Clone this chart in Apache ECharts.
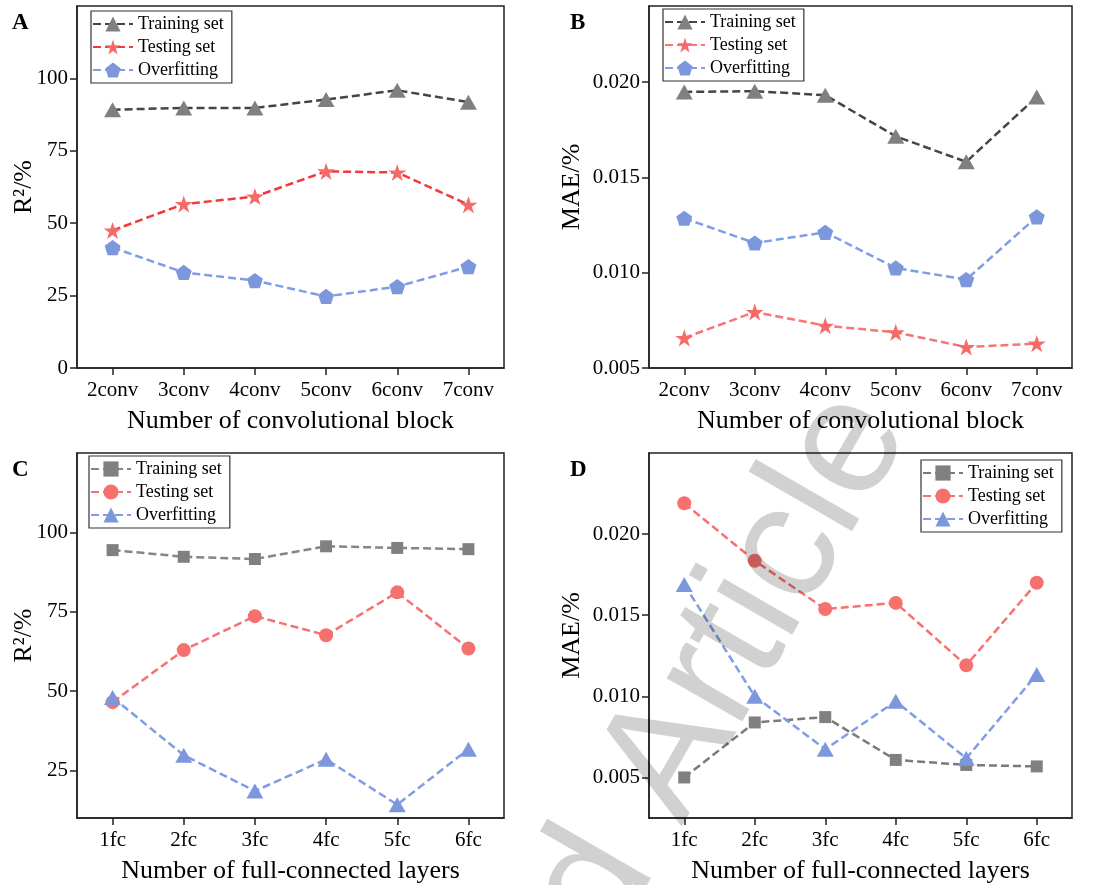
<!DOCTYPE html>
<html>
<head>
<meta charset="utf-8">
<script src="https://cdn.jsdelivr.net/npm/echarts@6/dist/echarts.min.js"></script>
<style>
html,body{margin:0;padding:0;background:#fff;}
#chart{width:1105px;height:885px;}
</style>
</head>
<body>
<div id="chart"></div>
<script>
// ---------- data ----------
const catsConv = ['2conv', '3conv', '4conv', '5conv', '6conv', '7conv'];
const catsFc = ['1fc', '2fc', '3fc', '4fc', '5fc', '6fc'];
const seriesNames = ['Training set', 'Testing set', 'Overfitting'];

const aTrain = [89.2, 89.8, 89.8, 92.7, 95.9, 91.8];
const aTest  = [47.5, 56.6, 59.2, 67.9, 67.5, 56.4];
const aOver  = [41.6, 33.0, 30.2, 24.7, 28.1, 35.0];

const bTrain = [0.01949, 0.01953, 0.01932, 0.01716, 0.01582, 0.01923];
const bTest  = [0.00658, 0.00794, 0.00722, 0.00687, 0.00610, 0.00628];
const bOver  = [0.01286, 0.01156, 0.01212, 0.01025, 0.00964, 0.01293];

const cTrain = [94.4, 92.3, 91.6, 95.6, 95.1, 94.7];
const cTest  = [46.5, 62.9, 73.6, 67.6, 81.1, 63.4];
const cOver  = [48.0, 29.8, 18.5, 28.5, 14.2, 31.7];

const dTrain = [0.00500, 0.00839, 0.00872, 0.00608, 0.00577, 0.00568];
const dTest  = [0.02190, 0.01836, 0.01538, 0.01576, 0.01191, 0.01700];
const dOver  = [0.01690, 0.01000, 0.00674, 0.00970, 0.00618, 0.01135];

const r2TicksA = [0, 25, 50, 75, 100];
const r2TicksC = [25, 50, 75, 100];
const maeTicks = [0.005, 0.010, 0.015, 0.020];

const xTitleConv = 'Number of convolutional block';
const xTitleFc = 'Number of full-connected layers';
const yTitleR2 = 'R\u00B2/%';
const yTitleMae = 'MAE/%';
const panelLetters = ['A', 'B', 'C', 'D'];
const watermarkWords = ['Retracted', 'Article'];

// ---------- styles ----------
const SERIF = '"Liberation Serif", "Times New Roman", serif';
const AX = '#222';
const symStar = 'path://M50,0L61.23,34.55L97.55,34.55L68.17,55.9L79.39,90.45L50,69.1L20.61,90.45L31.83,55.9L2.45,34.55L38.77,34.55Z';
const symPent = 'path://M50,0L97.55,34.55L79.39,90.45L20.61,90.45L2.45,34.55Z';

const grids = [
  {left: 77,  top: 6,   width: 427, height: 362},
  {left: 649, top: 6,   width: 423, height: 362},
  {left: 77,  top: 453, width: 427, height: 365},
  {left: 649, top: 453, width: 423, height: 365}
];

function xAxis(i, cats, name) {
  return {
    gridIndex: i, type: 'category', data: cats, boundaryGap: true,
    axisLine: {show: true, lineStyle: {color: AX, width: 1.5}},
    axisTick: {show: true, alignWithLabel: true, length: 7, lineStyle: {color: AX, width: 1.5}},
    axisLabel: {interval: 0, fontSize: 21, fontFamily: SERIF, color: '#000', margin: 12},
    splitLine: {show: false},
    name: name, nameLocation: 'middle', nameGap: 40, nameMoveOverlap: false,
    nameTextStyle: {fontSize: 26, fontFamily: SERIF, color: '#000'}
  };
}
function yAxis(i, min, max, ticks, fmt, name, gap) {
  return {
    gridIndex: i, type: 'value', min: min, max: max,
    axisLine: {show: true, lineStyle: {color: AX, width: 1.5}},
    axisTick: {show: true, length: 7, customValues: ticks, lineStyle: {color: AX, width: 1.5}},
    axisLabel: {customValues: ticks, formatter: fmt, fontSize: 21, fontFamily: SERIF, color: '#000', margin: 9},
    splitLine: {show: false},
    name: name, nameLocation: 'middle', nameGap: gap, nameMoveOverlap: false,
    nameTextStyle: {fontSize: 26, fontFamily: SERIF, color: '#000'}
  };
}
function line(i, prefix, nm, data, symbol, size, lineColor, markColor) {
  return {
    type: 'line', name: prefix + nm, xAxisIndex: i, yAxisIndex: i, data: data,
    symbol: symbol, symbolSize: size, symbolKeepAspect: true, showSymbol: true,
    lineStyle: {color: lineColor, width: 2.5, type: [8, 4]},
    itemStyle: {color: markColor},
    emphasis: {disabled: true}, animation: false
  };
}
function legend(prefix, left, top) {
  return {
    orient: 'vertical', left: left, top: top,
    data: seriesNames.map(n => prefix + n),
    formatter: n => n.slice(2),
    borderColor: '#333', borderWidth: 1.2, padding: [4, 8, 4, 1],
    itemWidth: 40, itemHeight: 19, itemGap: 5,
    textStyle: {fontSize: 18, fontFamily: SERIF, color: '#000'},
    selectedMode: false
  };
}

const fmtInt = v => String(v);
const fmt3 = v => v.toFixed(3);

const series = [
  line(0, 'A:', seriesNames[0], aTrain, 'triangle', [17, 15], '#454545', '#808080'),
  line(0, 'A:', seriesNames[1], aTest, symStar, 18, '#f23a3a', '#f76a6a'),
  line(0, 'A:', seriesNames[2], aOver, symPent, 16, '#7f9de6', '#7d97dc'),
  line(1, 'B:', seriesNames[0], bTrain, 'triangle', [17, 15], '#454545', '#808080'),
  line(1, 'B:', seriesNames[1], bTest, symStar, 18, '#f87575', '#f76a6a'),
  line(1, 'B:', seriesNames[2], bOver, symPent, 16, '#7f9de6', '#7d97dc'),
  line(2, 'C:', seriesNames[0], cTrain, 'rect', 12, '#858585', '#808080'),
  line(2, 'C:', seriesNames[1], cTest, 'circle', 14, '#f87070', '#f6716e'),
  line(2, 'C:', seriesNames[2], cOver, 'triangle', [17, 15], '#7f9de6', '#7d97dc'),
  line(3, 'D:', seriesNames[0], dTrain, 'rect', 12, '#7a7a7a', '#808080'),
  line(3, 'D:', seriesNames[1], dTest, 'circle', 14, '#f87070', '#f6716e'),
  line(3, 'D:', seriesNames[2], dOver, 'triangle', [17, 15], '#7f9de6', '#7d97dc')
];

const letterPos = [[12, 12], [570, 12], [12, 459], [570, 459]];
const graphics = panelLetters.map((t, k) => ({
  type: 'text', x: letterPos[k][0], y: letterPos[k][1],
  style: {text: t, fontSize: 23, fontWeight: 'bold', fontFamily: SERIF, fill: '#000'}
}));
// watermark
const wmAngle = 60 * Math.PI / 180;
const wmStyle = {fontSize: 165, fontFamily: '"Liberation Sans", Arial, sans-serif', fill: 'rgba(0,0,0,0.18)', verticalAlign: 'middle'};
graphics.push({
  type: 'text', x: 642, y: 804, rotation: wmAngle, z: 100, silent: true,
  style: Object.assign({text: watermarkWords[1], align: 'left'}, wmStyle)
});
graphics.push({
  type: 'text', x: 617, y: 846, rotation: wmAngle, z: 100, silent: true,
  style: Object.assign({text: watermarkWords[0], align: 'right'}, wmStyle)
});

const option = {
  backgroundColor: '#fff',
  animation: false,
  textStyle: {fontFamily: SERIF},
  grid: grids.map(g => Object.assign({show: true, borderColor: AX, borderWidth: 1.5, backgroundColor: 'transparent', containLabel: false}, g)),
  xAxis: [xAxis(0, catsConv, xTitleConv), xAxis(1, catsConv, xTitleConv), xAxis(2, catsFc, xTitleFc), xAxis(3, catsFc, xTitleFc)],
  yAxis: [
    yAxis(0, 0, 125, r2TicksA, fmtInt, yTitleR2, 40),
    yAxis(1, 0.005, 0.024, maeTicks, fmt3, yTitleMae, 64),
    yAxis(2, 10, 125, r2TicksC, fmtInt, yTitleR2, 40),
    yAxis(3, 0.0025, 0.025, maeTicks, fmt3, yTitleMae, 64)
  ],
  legend: [legend('A:', 91, 11), legend('B:', 663, 9), legend('C:', 89, 456), legend('D:', 921, 460)],
  series: series,
  graphic: graphics
};

const chart = echarts.init(document.getElementById('chart'), null, {renderer: 'canvas'});
chart.setOption(option);
</script>
</body>
</html>
